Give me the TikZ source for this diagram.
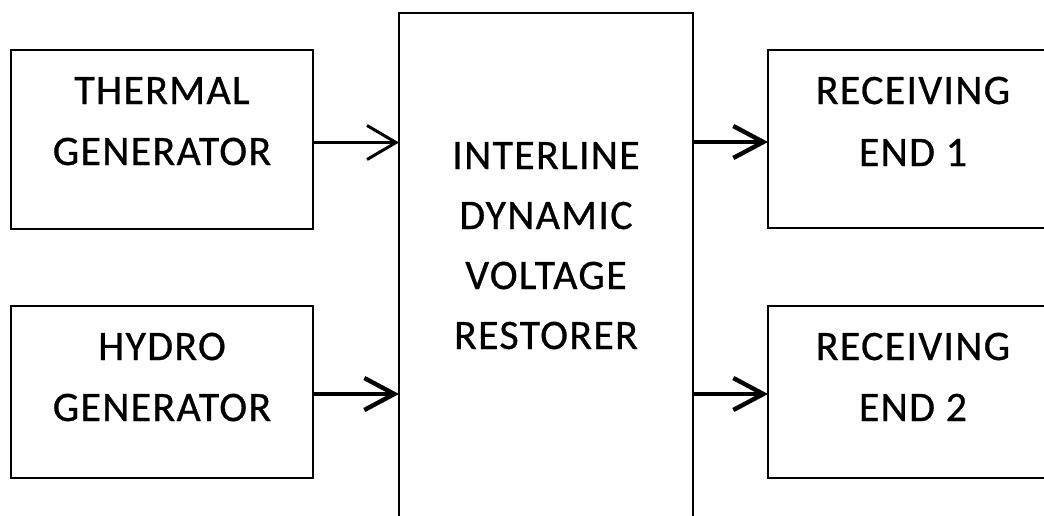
\documentclass[tikz,border=0pt]{standalone}
\usepackage{fontspec}
\setmainfont{Carlito}[FakeBold=0.8]
\newfontfamily\diagfont{Carlito}[FakeBold=0.6, LetterSpace=3]
\usetikzlibrary{arrows.meta}
\tikzset{
  blockbox/.style={draw=black, line width=2.9pt, inner sep=0pt, outer sep=0pt, anchor=north west},
  lbl/.style={font=\diagfont\fontsize{42}{50}\selectfont, anchor=base, inner sep=0pt},
  thinconn/.style={line width=2.2pt, -{Straight Barb[length=29pt,width=34pt,line width=3pt]}},
  boldconn/.style={line width=4pt, -{Straight Barb[length=30pt,width=32pt,line width=4.4pt]}}
}
\begin{document}
\begin{tikzpicture}[x=1pt,y=-1pt]
\useasboundingbox (0,0) rectangle (1044,515);
\clip (0,0) rectangle (1044,515);
\fill[white] (0,0) rectangle (1044,515);
% blocks
\node[blockbox, minimum width=302pt, minimum height=179pt] (thermal) at (11,50) {};
\node[blockbox, minimum width=302pt, minimum height=172pt] (hydro) at (11,306) {};
\node[blockbox, minimum width=294pt, minimum height=530pt] (idvr) at (399,13) {};
\node[blockbox, minimum width=300pt, minimum height=178pt] (recv1) at (768,50) {};
\node[blockbox, minimum width=300pt, minimum height=172pt] (recv2) at (768,306) {};
% labels
\node[lbl] (thA) at (162,104) {THERMAL};
\node[lbl] (thB) at (162,165) {GENERATOR};
\node[lbl] (hyA) at (162,360) {HYDRO};
\node[lbl] (hyB) at (162,421) {GENERATOR};
\node[lbl] (idA) at (546,169) {INTERLINE};
\node[lbl] (idB) at (546,229) {DYNAMIC};
\node[lbl] (idC) at (546,289) {VOLTAGE};
\node[lbl] (idD) at (546,349) {RESTORER};
\node[lbl] (r1A) at (913,104) {RECEIVING};
\node[lbl] (r1B) at (913,166) {END 1};
\node[lbl] (r2A) at (913,360) {RECEIVING};
\node[lbl] (r2B) at (913,421) {END 2};
% connectors
\draw[thinconn] ([yshift=-3pt]thermal.east) -- ([yshift=-3pt]thermal.east -| idvr.west);
\draw[boldconn] ([yshift=-2pt]hydro.east) -- ([yshift=-2pt]hydro.east -| idvr.west);
\draw[boldconn] ([yshift=-3pt]recv1.west -| idvr.east) -- ([yshift=-3pt]recv1.west);
\draw[boldconn] ([yshift=-2pt]recv2.west -| idvr.east) -- ([yshift=-2pt]recv2.west);
\end{tikzpicture}
\end{document}
